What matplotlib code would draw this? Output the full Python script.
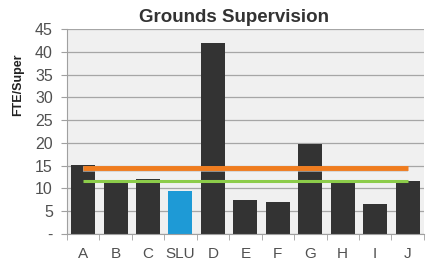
import matplotlib.pyplot as plt
import numpy as np

categories = ["A", "B", "C", "SLU", "D", "E", "F", "G", "H", "I", "J"]
values = [15.2, 11.5, 12.0, 9.5, 42.0, 7.5, 7.1, 19.8, 11.4, 6.6, 11.6]
highlight = "SLU"
avg_orange = 14.6
avg_green = 11.6
yticks = [0, 5, 10, 15, 20, 25, 30, 35, 40, 45]
ytick_labels = ["-", "5", "10", "15", "20", "25", "30", "35", "40", "45"]

plt.rcParams["font.family"] = ["Liberation Sans", "DejaVu Sans"]

fig = plt.figure(figsize=(4.26, 2.6), dpi=100)
ax = fig.add_axes([0.157, 0.1, 0.838, 0.788])
ax.set_facecolor("#f0f0f0")

x = np.arange(len(categories))
colors = ["#1e9ad6" if c == highlight else "#333333" for c in categories]
ax.bar(x, values, width=0.74, color=colors, zorder=2)

ax.plot([x[0], x[-1]], [avg_orange - 0.35, avg_orange - 0.35], color="#c8c8c8",
        lw=4, solid_capstyle="butt", zorder=2.5, alpha=0.8)
ax.plot([x[0], x[-1]], [avg_orange, avg_orange], color="#f07c1e",
        lw=3.5, solid_capstyle="butt", zorder=3)
ax.plot([x[0], x[-1]], [avg_green, avg_green], color="#8ccc4a",
        lw=2.2, solid_capstyle="butt", zorder=3)

ax.set_xlim(-0.5, len(categories) - 0.5)
ax.set_ylim(0, 45)
ax.set_yticks(yticks)
ax.set_yticklabels(ytick_labels)
ax.yaxis.grid(True, color="#a6a6a6", lw=0.9, zorder=0)
ax.set_axisbelow(True)

ax.set_xticks(x)
ax.set_xticklabels(categories)
ax.set_xticks(np.arange(-0.5, len(categories), 1), minor=True)
ax.tick_params(axis="x", which="major", length=0, labelsize=11,
               colors="#505050", pad=9)
ax.tick_params(axis="x", which="minor", length=4, color="#a0a0a0")
ax.tick_params(axis="y", length=4, color="#a0a0a0", labelsize=11.5,
               labelcolor="#505050", pad=6)

for s in ["top", "right"]:
    ax.spines[s].set_visible(False)
for s in ["left", "bottom"]:
    ax.spines[s].set_color("#a0a0a0")

ax.set_ylabel("FTE/Super", fontsize=9, fontweight="bold", color="#222222",
              labelpad=8, y=0.73)
ax.set_title("Grounds Supervision", fontsize=13.5, fontweight="bold",
             color="#333333", pad=5, x=0.468)

fig.savefig("out.png", dpi=100, facecolor="white")
